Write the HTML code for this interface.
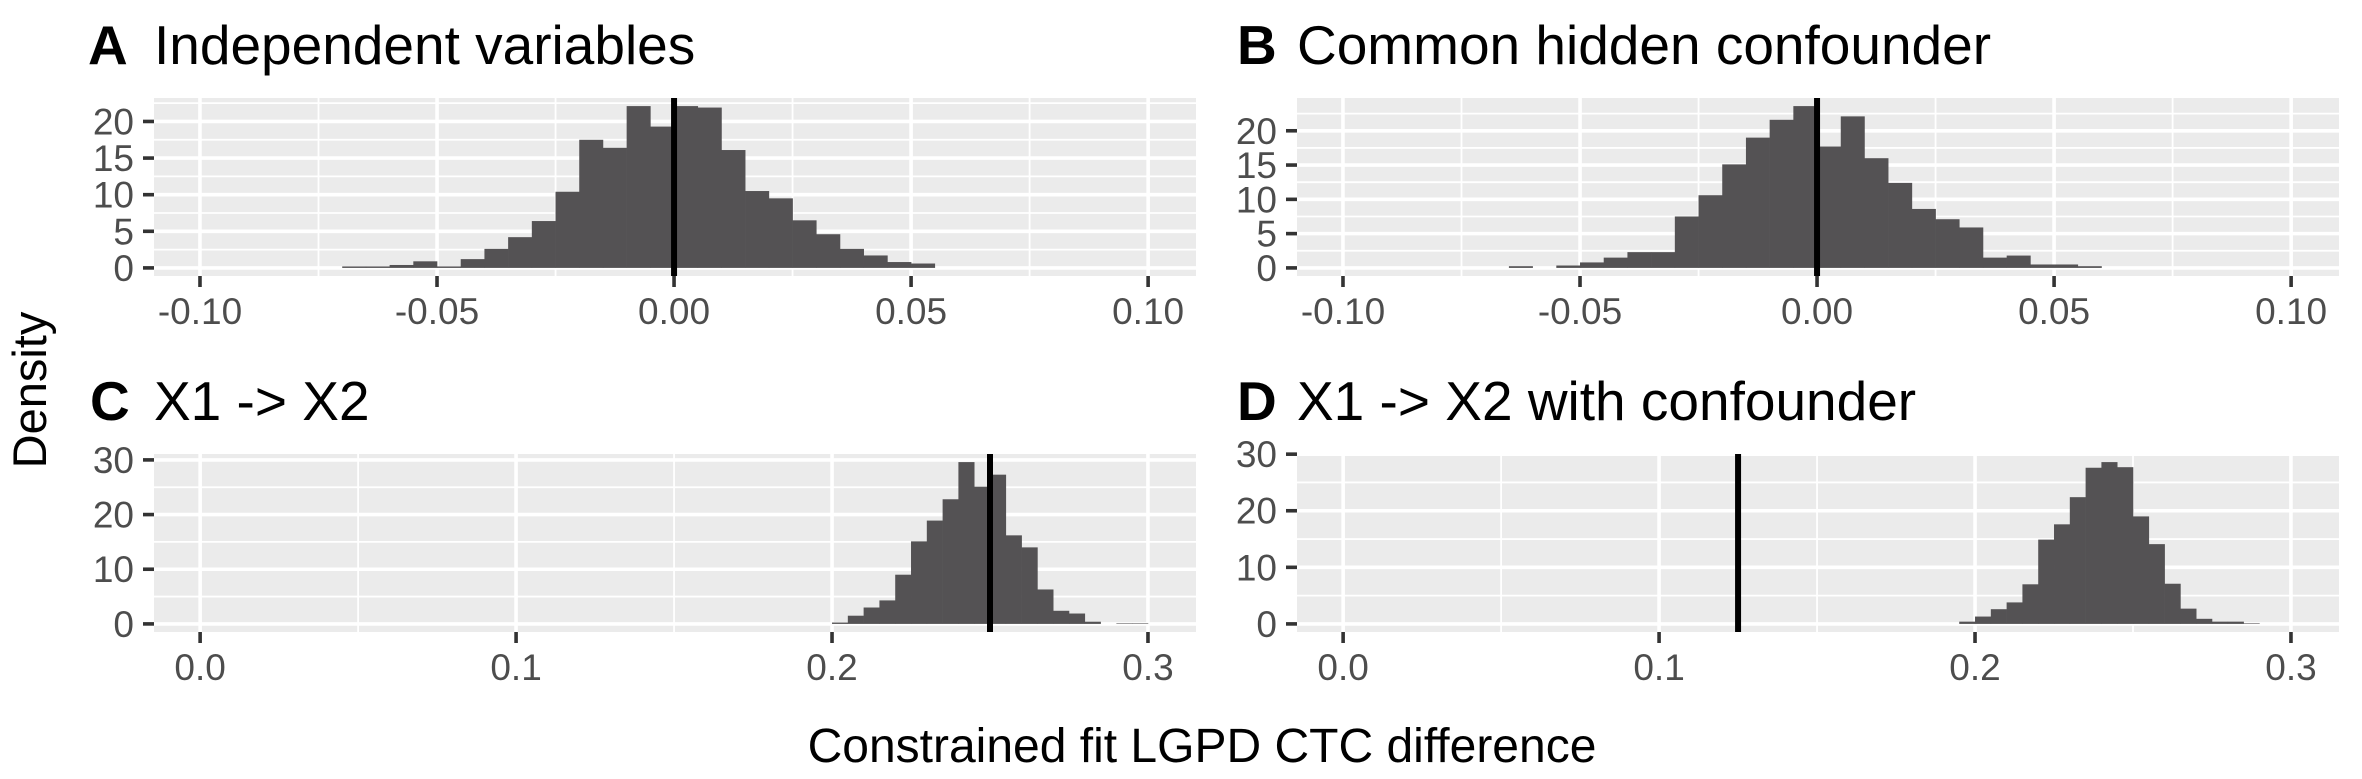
<!DOCTYPE html>
<html><head><meta charset="utf-8"><style>
html,body{margin:0;padding:0;background:#fff;}
svg{display:block;font-family:"Liberation Sans",Arial,sans-serif;}
</style></head><body>
<svg id="chart" width="2362" height="779" viewBox="0 0 2362 779" xmlns="http://www.w3.org/2000/svg">
<text x="0" y="0" transform="translate(46,390) rotate(-90)" text-anchor="middle" font-size="47" fill="#000">Density</text>
<text x="1202" y="762" text-anchor="middle" font-size="48" fill="#000">Constrained fit LGPD CTC difference</text>
</svg>
<script>
// Panel A: Independent variables (bin starts, binwidth 0.005)
const binsA = [-0.070,-0.065,-0.060,-0.055,-0.050,-0.045,-0.040,-0.035,-0.030,-0.025,-0.020,-0.015,-0.010,-0.005,0.000,0.005,0.010,0.015,0.020,0.025,0.030,0.035,0.040,0.045,0.050];
const densA = [0.2,0.2,0.4,0.9,0.2,1.2,2.6,4.2,6.4,10.4,17.5,16.4,22.1,19.3,22.1,21.9,16.1,10.5,9.5,6.5,4.6,2.6,1.7,0.8,0.6];
const vlineA = 0.0;
// Panel B: Common hidden confounder
const binsB = [-0.065,-0.060,-0.055,-0.050,-0.045,-0.040,-0.035,-0.030,-0.025,-0.020,-0.015,-0.010,-0.005,0.000,0.005,0.010,0.015,0.020,0.025,0.030,0.035,0.040,0.045,0.050,0.055];
const densB = [0.25,0,0.35,0.8,1.5,2.3,2.3,7.5,10.6,15.1,19.0,21.6,23.6,17.7,22.1,16.0,12.4,8.6,7.1,5.9,1.5,1.8,0.5,0.5,0.25];
const vlineB = 0.0;
// Panel C: X1 -> X2
const binsC = [0.200,0.205,0.210,0.215,0.220,0.225,0.230,0.235,0.240,0.245,0.250,0.255,0.260,0.265,0.270,0.275,0.280,0.285,0.290,0.295];
const densC = [0.25,1.5,3.0,4.3,9.0,15.1,18.9,22.8,29.6,25.1,27.3,16.2,14.0,6.3,2.4,1.9,0.4,0,0.1,0.1];
const vlineC = 0.25;
// Panel D: X1 -> X2 with confounder
const binsD = [0.195,0.200,0.205,0.210,0.215,0.220,0.225,0.230,0.235,0.240,0.245,0.250,0.255,0.260,0.265,0.270,0.275,0.280,0.285];
const densD = [0.4,1.3,2.6,3.8,7.0,14.9,17.6,22.4,27.6,28.6,27.7,19.0,14.1,7.1,2.7,0.9,0.4,0.4,0.1];
const vlineD = 0.125;
// Tick labels
const xTicksAB = [-0.10,-0.05,0.00,0.05,0.10];
const xTickLabelsAB = ["-0.10","-0.05","0.00","0.05","0.10"];
const xTicksCD = [0.0,0.1,0.2,0.3];
const xTickLabelsCD = ["0.0","0.1","0.2","0.3"];
const yTicksAB = [0,5,10,15,20];
const yTicksCD = [0,10,20,30];
const binWidth = 0.005;

const NS = "http://www.w3.org/2000/svg";
const svg = document.getElementById('chart');
function mk(tag, attrs, parent){
  const e = document.createElementNS(NS, tag);
  for (const k in attrs) e.setAttribute(k, attrs[k]);
  (parent||svg).appendChild(e);
  return e;
}

function panel(cfg){
  const g = mk('g', {});
  
  
  const L = cfg.x0, R = cfg.x1, T = cfg.y0, B = cfg.y1;
  const xs = v => L + (v - cfg.xmin) / (cfg.xmax - cfg.xmin) * (R - L);
  const ymax = Math.max(...cfg.vals);
  const ylo = -0.05 * ymax, yhi = 1.05 * ymax;
  const ys = v => B - (v - ylo) / (yhi - ylo) * (B - T);
  const bg = mk('rect', {x:L, y:T, width:R-L, height:B-T, fill:'#ebebeb'}, g);
  
  
  const yt = cfg.yticks, step = yt[1]-yt[0];
  for (let v = yt[0]-step/2; v <= yhi; v += step){
    if (v < ylo) continue;
    const l = mk('line', {x1:L, x2:R, y1:ys(v), y2:ys(v), stroke:'#fff', 'stroke-width':1.8}, g);
    
    
  }
  const xt = cfg.xticks, xstep = xt[1]-xt[0];
  for (let i = 0; i < xt.length - 1; i++){
    const v = xt[i] + xstep/2;
    const l = mk('line', {x1:xs(v), x2:xs(v), y1:T, y2:B, stroke:'#fff', 'stroke-width':1.8}, g);
    
    
  }
  yt.forEach(v => {
    const l = mk('line', {x1:L, x2:R, y1:ys(v), y2:ys(v), stroke:'#fff', 'stroke-width':3.6}, g);
    
    
    const t = mk('line', {x1:L-11, x2:L, y1:ys(v), y2:ys(v), stroke:'#333', 'stroke-width':3.6}, g);
    
    
    const tx = mk('text', {x:L-20, y:ys(v)+13, 'text-anchor':'end', 'font-size':37, fill:'#4d4d4d'}, g);
    tx.textContent = String(v);
    
    
  });
  xt.forEach((v, i) => {
    const l = mk('line', {x1:xs(v), x2:xs(v), y1:T, y2:B, stroke:'#fff', 'stroke-width':3.6}, g);
    
    
    const t = mk('line', {x1:xs(v), x2:xs(v), y1:B, y2:B+11, stroke:'#333', 'stroke-width':3.6}, g);
    
    
    const tx = mk('text', {x:xs(v), y:B+48, 'text-anchor':'middle', 'font-size':37, fill:'#4d4d4d'}, g);
    tx.textContent = cfg.xlabels[i];
    
    
  });
  cfg.bins.forEach((b, i) => {
    const v = cfg.vals[i];
    if (v <= 0) return;
    const x0 = xs(b), x1 = xs(b + binWidth);
    const r = mk('rect', {x:x0, y:ys(v), width:x1-x0+0.3, height:ys(0)-ys(v), fill:'#545254'}, g);
    
    
  });
  const vl = mk('line', {x1:xs(cfg.vline), x2:xs(cfg.vline), y1:T, y2:B, stroke:'#000', 'stroke-width':6}, g);
  
  
  const tt = mk('text', {x:cfg.tx, y:cfg.ty, 'font-size':55, fill:'#000'}, g);
  
  
  const ts = mk('tspan', {'font-weight':'bold'}, tt);
  ts.textContent = cfg.letter;
  const ts2 = mk('tspan', {x:L}, tt);
  ts2.textContent = cfg.title;
}

panel({key:'a', letter:'A', title:'Independent variables', x0:154, x1:1196, y0:98, y1:276, xmin:-0.1097, xmax:0.1101, xticks:xTicksAB, xlabels:xTickLabelsAB, yticks:yTicksAB, bins:binsA, vals:densA, vline:vlineA, tx:88, ty:64});
panel({key:'b', letter:'B', title:'Common hidden confounder', x0:1297, x1:2339, y0:98, y1:276, xmin:-0.1097, xmax:0.1101, xticks:xTicksAB, xlabels:xTickLabelsAB, yticks:yTicksAB, bins:binsB, vals:densB, vline:vlineB, tx:1237, ty:64});
panel({key:'c', letter:'C', title:'X1 -> X2', x0:154, x1:1196, y0:454, y1:632, xmin:-0.0146, xmax:0.3152, xticks:xTicksCD, xlabels:xTickLabelsCD, yticks:yTicksCD, bins:binsC, vals:densC, vline:vlineC, tx:90, ty:420});
panel({key:'d', letter:'D', title:'X1 -> X2 with confounder', x0:1297, x1:2339, y0:454, y1:632, xmin:-0.0146, xmax:0.3152, xticks:xTicksCD, xlabels:xTickLabelsCD, yticks:yTicksCD, bins:binsD, vals:densD, vline:vlineD, tx:1237, ty:420});
</script>
</body></html>
